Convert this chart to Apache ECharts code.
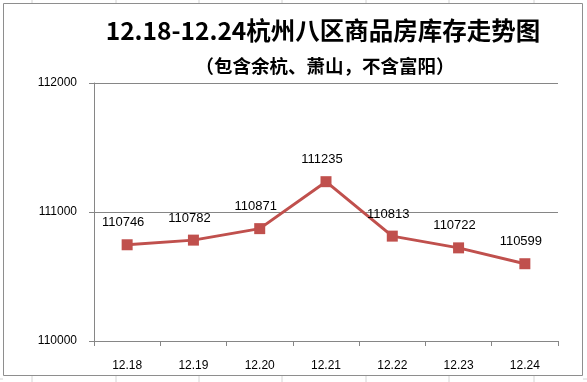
<!DOCTYPE html>
<html><head><meta charset="utf-8">
<script src="https://cdn.jsdelivr.net/npm/echarts@6/dist/echarts.min.js"></script>
<style>html,body{margin:0;padding:0;background:#fff}#c{width:587px;height:382px}</style>
</head><body><div id="c"></div>
<script>
const categories = ['12.18','12.19','12.20','12.21','12.22','12.23','12.24'];
const stock = [110746, 110782, 110871, 111235, 110813, 110722, 110599];
const yTicks = [110000, 111000, 112000];

const chart = echarts.init(document.getElementById('c'), null, {renderer:'canvas'});
const g = [];
// spreadsheet cell grid outside the chart frame
[32,116,199,282,366,449,534].forEach(x=>{
  g.push({type:'line',shape:{x1:x,y1:0,x2:x,y2:3},style:{stroke:'#d4d4d4',lineWidth:1},z:-1});
  g.push({type:'line',shape:{x1:x,y1:376,x2:x,y2:382},style:{stroke:'#d4d4d4',lineWidth:1},z:-1});
});
[379].forEach(y=>{
  g.push({type:'line',shape:{x1:0,y1:y,x2:3,y2:y},style:{stroke:'#d4d4d4',lineWidth:1},z:-1});
  g.push({type:'line',shape:{x1:583,y1:y,x2:587,y2:y},style:{stroke:'#d4d4d4',lineWidth:1},z:-1});
});
g.push({type:'rect',shape:{x:3.5,y:3.5,width:579,height:372},style:{fill:'#fff',stroke:'#8e8e8e',lineWidth:1},z:-1});

chart.setOption({
  animation:false,
  graphic:g,
  title:[{
    text:'12.18-12.24杭州八区商品房库存走势图',
    left:318, top:13, textAlign:'center',
    textStyle:{fontFamily:'"Noto Sans CJK SC","Noto Sans",sans-serif',fontSize:24.5,fontWeight:'bold',color:'#000'}
  },{
    text:'（包含余杭、萧山，不含富阳）',
    left:320, top:52, textAlign:'center',
    textStyle:{fontFamily:'"Noto Sans CJK SC",sans-serif',fontSize:18.5,fontWeight:'bold',color:'#000'}
  }],
  grid:{left:94,right:29,top:83,bottom:41},
  xAxis:{
    type:'category',data:categories,boundaryGap:true,
    axisLine:{lineStyle:{color:'#868686',width:1}},
    axisTick:{show:true,inside:false,length:5,alignWithLabel:false,lineStyle:{color:'#868686'}},
    axisLabel:{color:'#000',fontSize:12,fontFamily:'"Liberation Sans","DejaVu Sans",sans-serif',margin:19}
  },
  yAxis:{
    type:'value',min:110000,max:112000,interval:1000,
    axisLine:{show:true,lineStyle:{color:'#868686',width:1}},
    axisTick:{show:true,length:5,lineStyle:{color:'#868686'}},
    splitLine:{show:true,lineStyle:{color:'#868686',width:1}},
    axisLabel:{color:'#000',fontSize:12,fontFamily:'"Liberation Sans","DejaVu Sans",sans-serif',margin:17,
      formatter:v=>yTicks.includes(v)?String(v):''}
  },
  series:[{
    type:'line',data:stock,
    symbol:'rect',symbolSize:11,
    lineStyle:{color:'#C0504D',width:3},
    itemStyle:{color:'#C0504D'},
    label:{show:true,position:'top',distance:10,offset:[-4,0],color:'#000',fontSize:13,fontFamily:'"Liberation Sans","DejaVu Sans",sans-serif'}
  }]
});
</script></body></html>
